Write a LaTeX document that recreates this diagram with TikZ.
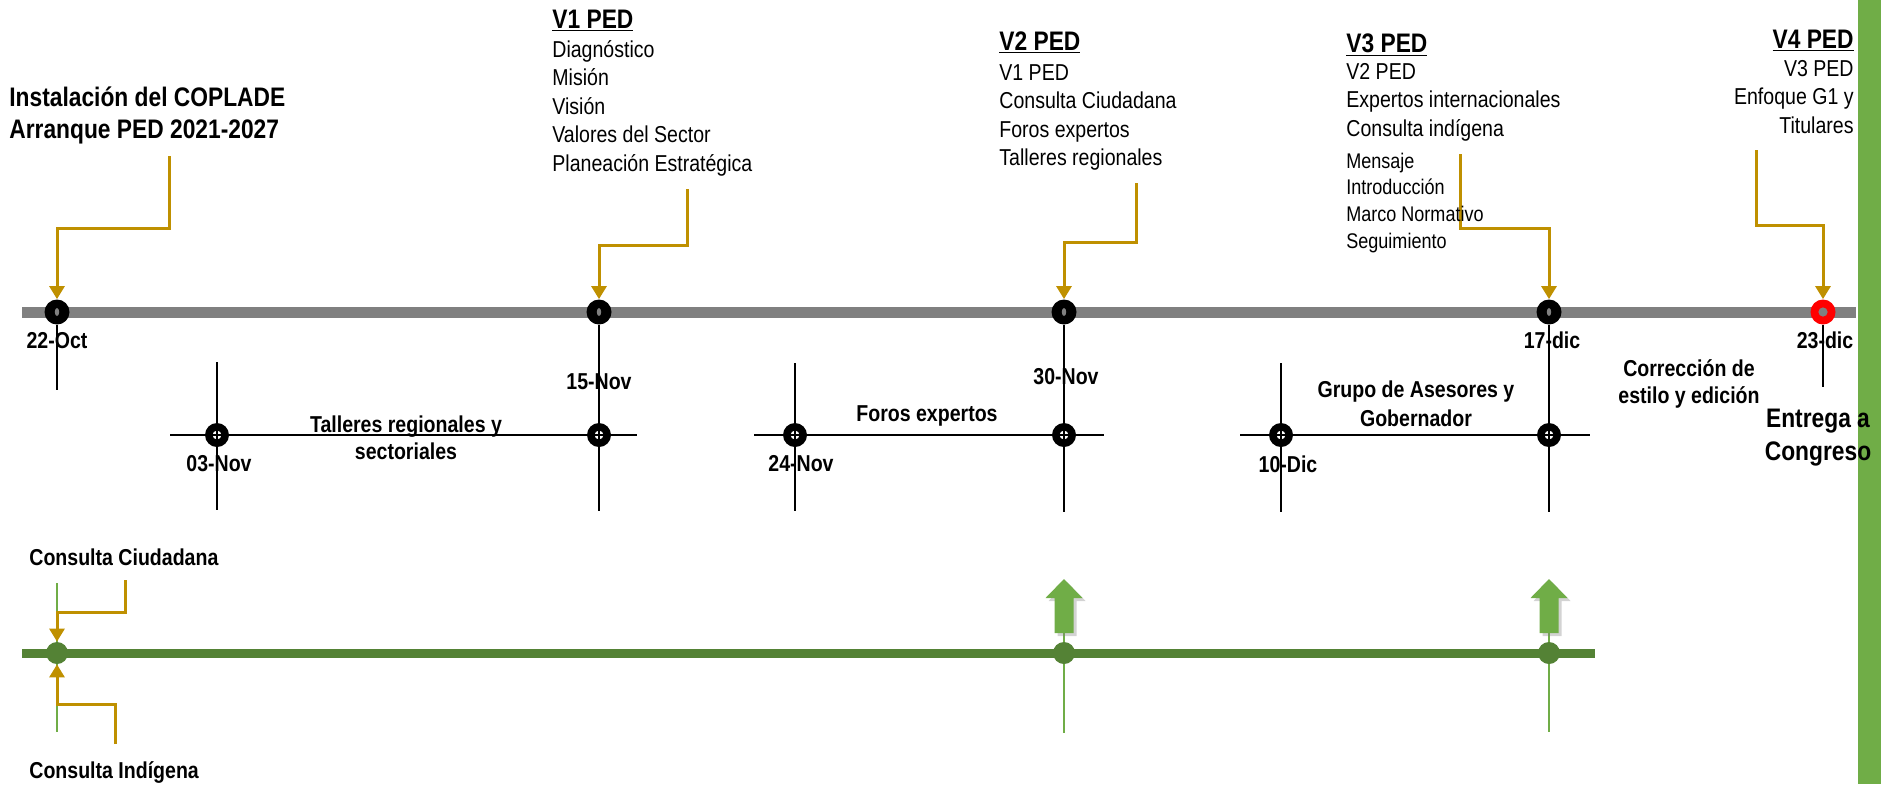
\documentclass[tikz,border=0pt]{standalone}
\usepackage{fontspec}
\setmainfont{Liberation Sans}[FakeStretch=0.85]
\usepackage{tikz}
\usetikzlibrary{arrows.meta, shadows}
\definecolor{grislinea}{HTML}{808080}
\definecolor{verdeosc}{HTML}{548235}
\definecolor{verdeclaro}{HTML}{70AD47}
\definecolor{ocre}{HTML}{BF9000}
\tikzset{%
	hito/.style={
		circle,
		fill=black,
		minimum size=12.5pt,
		inner sep=0pt,
		path picture={\fill[grislinea] (path picture bounding box.center) ellipse (1.1pt and 2pt);}
	},
	hito rojo/.style={
		circle,
		fill=red,
		minimum size=12.5pt,
		inner sep=0pt,
		path picture={\fill[grislinea] (path picture bounding box.center) circle (2.3pt);}
	},
	hito cruz/.style={
		circle,
		fill=black,
		minimum size=12pt,
		inner sep=0pt,
		path picture={
			\fill[white] (path picture bounding box.center) circle (2.2pt);
			\draw[line width=0.6pt] ([xshift=-3pt]path picture bounding box.center) -- ([xshift=3pt]path picture bounding box.center);
			\draw[line width=0.6pt] ([yshift=-3pt]path picture bounding box.center) -- ([yshift=3pt]path picture bounding box.center);
		}
	},
	hito verde/.style={
		circle,
		fill=verdeosc,
		minimum size=11pt,
		inner sep=0pt
	},
	marca/.style={line width=0.7pt},
	conector/.style={
		draw=ocre,
		line width=1.5pt,
		-{Triangle[width=7.5pt,length=6.5pt]}
	},
	titulo/.style={font=\fontsize{13.4}{16}\selectfont\bfseries, inner sep=0pt},
	lista/.style={font=\fontsize{11.5}{14}\selectfont, inner sep=0pt},
	lista chica/.style={font=\fontsize{10.6}{13}\selectfont, inner sep=0pt},
	fecha/.style={font=\fontsize{11.5}{14}\selectfont\bfseries, inner sep=0pt, anchor=base},
}

\begin{document}
\begin{tikzpicture}[x=0.5pt, y=-0.5pt]
	\useasboundingbox (0,0) rectangle (1881,784);

	% barra verde lateral
	\fill[verdeclaro] (1858,0) rectangle (1881,784);

	% lineas de tiempo
	\coordinate (grisini) at (22,312);
	\coordinate (grisfin) at (1856,312);
	\draw[grislinea, line width=5.5pt] (grisini) -- (grisfin);
	\coordinate (verdeini) at (22,653);
	\coordinate (verdefin) at (1595,653);
	\draw[verdeosc, line width=4.5pt] (verdeini) -- (verdefin);

	% lineas verdes finas
	\draw[verdeclaro, line width=0.6pt] (57,583) -- (57,732);
	\draw[verdeclaro, line width=0.6pt] (1064,633) -- (1064,733);
	\draw[verdeclaro, line width=0.6pt] (1549,633) -- (1549,732);

	% hitos
	\node[hito] (oct22) at (57,312) {};
	\node[hito] (nov15) at (599,312) {};
	\node[hito] (nov30) at (1064,312) {};
	\node[hito] (dic17) at (1549,312) {};
	\node[hito rojo] (dic23) at (1823,312) {};

	\node[hito cruz] (nov3) at (217,435) {};
	\node[hito cruz] (nov15b) at (599,435) {};
	\node[hito cruz] (nov24) at (795,435) {};
	\node[hito cruz] (nov30b) at (1064,435) {};
	\node[hito cruz] (dic10) at (1281,435) {};
	\node[hito cruz] (dic17b) at (1549,435) {};

	\node[hito verde] (verde1) at (57,653) {};
	\node[hito verde] (verde2) at (1064,653) {};
	\node[hito verde] (verde3) at (1549,653) {};

	% marcas verticales
	\coordinate (oct22t) at (57,390);
	\coordinate (nov15t) at (599,511);
	\coordinate (nov30t) at (1064,512);
	\coordinate (dic17t) at (1549,512);
	\coordinate (dic23t) at (1823,387);
	\draw[marca] (oct22) -- (oct22t);
	\draw[marca] (nov15) -- (nov15b) -- (nov15t);
	\draw[marca] (nov30) -- (nov30b) -- (nov30t);
	\draw[marca] (dic17) -- (dic17b) -- (dic17t);
	\draw[marca] (dic23) -- (dic23t);

	\coordinate (nov3a) at (217,362);
	\coordinate (nov3t) at (217,510);
	\coordinate (nov24a) at (795,363);
	\coordinate (nov24t) at (795,511);
	\coordinate (dic10a) at (1281,363);
	\coordinate (dic10t) at (1281,512);
	\draw[marca] (nov3a) -- (nov3) -- (nov3t);
	\draw[marca] (nov24a) -- (nov24) -- (nov24t);
	\draw[marca] (dic10a) -- (dic10) -- (dic10t);

	% periodos
	\coordinate (tall0) at (170,435);
	\coordinate (tall9) at (637,435);
	\coordinate (foros0) at (754,435);
	\coordinate (foros9) at (1104,435);
	\coordinate (grupo0) at (1240,435);
	\coordinate (grupo9) at (1590,435);
	\draw[marca] (tall0) -- (nov3) -- (nov15b) -- (tall9);
	\draw[marca] (foros0) -- (nov24) -- (nov30b) -- (foros9);
	\draw[marca] (grupo0) -- (dic10) -- (dic17b) -- (grupo9);

	% conectores
	\coordinate (c1) at (169,156);
	\coordinate (c2) at (687,189);
	\coordinate (c3) at (1136,183);
	\coordinate (c4) at (1460,154);
	\coordinate (c5) at (1756,150);
	\coordinate (cc) at (125,580);
	\coordinate (ci) at (115,744);
	\draw[conector] (c1) -- ++(0,72) -| (oct22);
	\draw[conector] (c2) -- ++(0,56) -| (nov15);
	\draw[conector] (c3) -- ++(0,59) -| (nov30);
	\draw[conector] (c4) -- ++(0,74) -| (dic17);
	\draw[conector] (c5) -- ++(0,75) -| (dic23);
	\draw[conector] (cc) -- ++(0,32) -| (verde1);
	\draw[conector] (ci) -- ++(0,-40) -| (verde1);

	% flechas verdes
	\foreach \x in {1064,1549}
		\fill[verdeclaro, drop shadow={shadow xshift=1.5pt, shadow yshift=-1.5pt, opacity=0.35}]
			(\x,579) -- (\x+18.5,598) -- (\x+9.5,598) -- (\x+9.5,633)
			-- (\x-9.5,633) -- (\x-9.5,598) -- (\x-18.5,598) -- cycle;

	% textos de arriba
	\node[titulo, anchor=base west] (copl1) at (9,106) {Instalación del COPLADE};
	\node[titulo, anchor=base west] (copl2) at (9,138) {Arranque PED 2021-2027};

	\node[titulo, anchor=base west] (v1) at (552,28) {\underline{V1 PED}};
	\foreach \t [count=\i] in {Diagnóstico, Misión, Visión, Valores del Sector, Planeación Estratégica}
		\node[lista, anchor=base west] (v1-\i) at (552,28.5+28.5*\i) {\t};

	\node[titulo, anchor=base west] (v2) at (999,50) {\underline{V2 PED}};
	\foreach \t [count=\i] in {V1 PED, Consulta Ciudadana, Foros expertos, Talleres regionales}
		\node[lista, anchor=base west] (v2-\i) at (999,51.5+28.5*\i) {\t};

	\node[titulo, anchor=base west] (v3) at (1346,52) {\underline{V3 PED}};
	\foreach \t [count=\i] in {V2 PED, Expertos internacionales, Consulta indígena}
		\node[lista, anchor=base west] (v3-\i) at (1346,50.5+28.5*\i) {\t};
	\foreach \t [count=\i] in {Mensaje, Introducción, Marco Normativo, Seguimiento}
		\node[lista chica, anchor=base west] (v3b-\i) at (1346,141.3+26.7*\i) {\t};

	\node[titulo, anchor=base east] (v4) at (1854,48) {\underline{V4 PED}};
	\foreach \t [count=\i] in {V3 PED, Enfoque G1 y, Titulares}
		\node[lista, anchor=base east] (v4-\i) at (1854,47.5+28.5*\i) {\t};

	% fechas
	\node[fecha] (f22oct) at (57,348) {22-Oct};
	\node[fecha] (f15nov) at (599,389) {15-Nov};
	\node[fecha] (f03nov) at (219,471) {03-Nov};
	\node[fecha] (f24nov) at (801,471) {24-Nov};
	\node[fecha] (f30nov) at (1066,384) {30-Nov};
	\node[fecha] (f10dic) at (1288,472) {10-Dic};
	\node[fecha] (f17dic) at (1552,348) {17-dic};
	\node[fecha] (f23dic) at (1825,348) {23-dic};

	% etiquetas
	\node[fecha] (tall1) at (406,432) {Talleres regionales y};
	\node[fecha] (tall2) at (406,459) {sectoriales};
	\node[fecha] (foros) at (927,421) {Foros expertos};
	\node[fecha] (grupo1) at (1416,397) {Grupo de Asesores y};
	\node[fecha] (grupo2) at (1416,426) {Gobernador};
	\node[fecha] (corr1) at (1689,376) {Corrección de};
	\node[fecha] (corr2) at (1689,403) {estilo y edición};
	\node[titulo, anchor=base] (entrega1) at (1818,427) {Entrega a};
	\node[titulo, anchor=base] (entrega2) at (1818,460) {Congreso};
	\node[fecha, anchor=base west] (ciud) at (29,565) {Consulta Ciudadana};
	\node[fecha, anchor=base west] (indig) at (29,778) {Consulta Indígena};
\end{tikzpicture}
\end{document}
